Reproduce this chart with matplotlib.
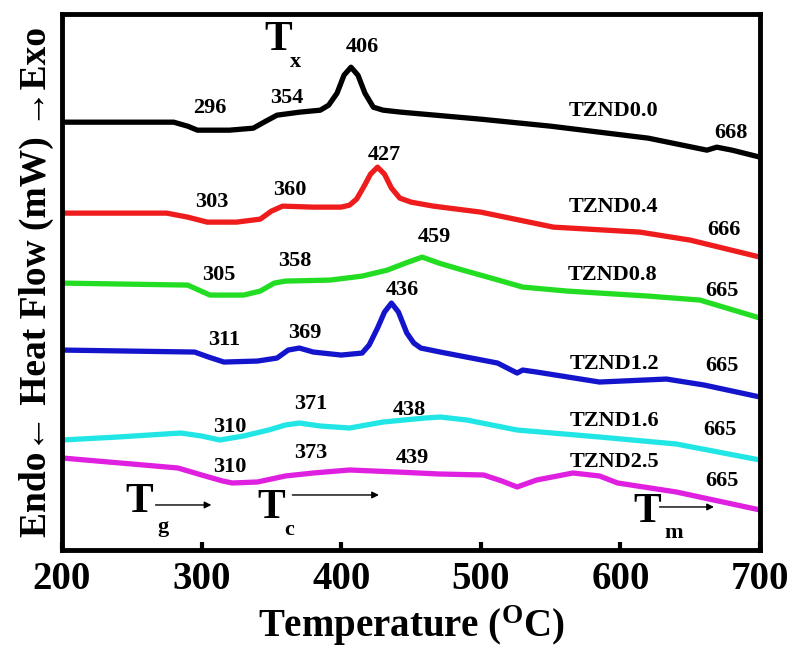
import matplotlib
matplotlib.use("Agg")
import matplotlib.pyplot as plt

plt.rcParams.update({
    "font.family": ["Liberation Serif", "DejaVu Serif"],
    "font.weight": "bold",
    "mathtext.fontset": "custom",
    "mathtext.rm": "Liberation Serif:bold",
})

# ---------------------------------------------------------------- data
# heat flow in arbitrary units (curves offset for clarity, larger = lower)
t_00 = [200, 280, 290, 297, 320, 337, 346, 354, 370, 385, 391, 397, 402, 407, 412, 417, 423,
        430, 443, 500, 550, 585, 620, 662, 669, 680, 700]
h_00 = [122, 122, 126, 130, 130, 128, 121, 115, 112, 110, 105, 93, 75, 67, 75, 93, 107,
        110, 112, 119, 126, 132, 138, 150, 147, 150, 157]

t_04 = [200, 275, 290, 304, 325, 342, 350, 358, 380, 400, 406, 411, 416, 421, 426, 431, 436,
        442, 450, 466, 500, 552, 614, 650, 700]
h_04 = [213, 213, 217, 222, 222, 219, 211, 206, 207, 207, 205, 199, 187, 174, 167, 174, 188,
        198, 202, 206, 212, 227, 232, 240, 257]

t_08 = [200, 290, 298, 306, 330, 342, 352, 360, 392, 415, 433, 446, 458, 470, 487, 510, 530,
        562, 620, 657, 700]
h_08 = [283, 285, 290, 295, 295, 291, 283, 281, 280, 276, 270, 263, 257, 263, 270, 279, 287,
        291, 296, 300, 318]

t_12 = [200, 295, 305, 316, 340, 354, 362, 370, 380, 400, 415, 420, 426, 431, 436, 441, 447,
        452, 457, 471, 512, 526, 530, 540, 585, 633, 660, 700]
h_12 = [350, 352, 357, 362, 361, 358, 350, 348, 352, 355, 353, 345, 328, 312, 303, 312, 333,
        343, 348, 352, 363, 373, 370, 372, 382, 379, 385, 397]

t_16 = [200, 240, 285, 300, 313, 330, 348, 360, 370, 385, 406, 430, 460, 471, 490, 526, 585, 640, 700]
h_16 = [440, 437, 433, 436, 440, 436, 430, 425, 423, 426, 428, 422, 418, 417, 420, 430, 437, 444, 460]

t_25 = [200, 250, 283, 300, 315, 322, 340, 360, 380, 406, 440, 470, 502, 515, 526, 540, 566, 585,
        598, 640, 700]
h_25 = [458, 464, 468, 475, 481, 483, 482, 476, 473, 470, 472, 474, 475, 481, 487, 480, 473, 476,
        483, 492, 510]

samples = ["TZND0.0", "TZND0.4", "TZND0.8", "TZND1.2", "TZND1.6", "TZND2.5"]
colors = ["black", "#ee1c1c", "#22dd22", "#1414cc", "#22e6e6", "#e020e0"]

# characteristic temperatures: Tg, Tc, Tp, Tm
tg = [296, 303, 305, 311, 310, 310]
tc = [354, 360, 358, 369, 371, 373]
tp = [406, 427, 459, 436, 438, 439]
tm = [668, 666, 665, 665, 665, 665]

# label anchors (temperature, heat flow) for each annotation
tg_pos = [(306, 108), (307, 202), (312, 275), (316, 340), (320, 427), (320, 467)]
tc_pos = [(361, 98), (363, 190), (367, 261), (374, 333), (378, 404), (378, 453)]
tp_pos = [(415, 47), (431, 155), (467, 237), (444, 290), (449, 410), (451, 458)]
tm_pos = [(679, 133), (674, 230), (673, 291), (673, 366), (671, 430), (673, 481)]
name_pos = [(595, 111), (595, 207), (594, 275), (596, 364), (596, 421), (596, 462)]

# ---------------------------------------------------------------- figure
fig = plt.figure(figsize=(7.95, 6.47), dpi=100)
ax = fig.add_axes([0.078, 0.150, 0.878, 0.828])

curves = [(t_00, h_00), (t_04, h_04), (t_08, h_08), (t_12, h_12), (t_16, h_16), (t_25, h_25)]
for (t, h), c in zip(curves, colors):
    ax.plot(t, h, color=c, linewidth=3.8, solid_joinstyle="round", solid_capstyle="round")

for i in range(len(samples)):
    for val, pos in ((tg[i], tg_pos[i]), (tc[i], tc_pos[i]), (tp[i], tp_pos[i]), (tm[i], tm_pos[i])):
        ax.text(pos[0], pos[1], str(val), fontsize=16, fontweight="bold",
                ha="center", va="center")
    ax.text(name_pos[i][0], name_pos[i][1], samples[i], fontsize=16, fontweight="bold",
            ha="center", va="center")

# T_x, T_g, T_c, T_m markers
ax.text(355, 40, "T", fontsize=30, fontweight="bold", ha="center", va="center")
ax.text(367, 62, "x", fontsize=16, fontweight="bold", ha="center", va="center")

ax.text(255, 502, "T", fontsize=30, fontweight="bold", ha="center", va="center")
ax.text(272, 527, "g", fontsize=16, fontweight="bold", ha="center", va="center")
ax.annotate("", xy=(309, 505), xytext=(265, 505),
            arrowprops=dict(arrowstyle="-|>", color="black", lw=1.0, mutation_scale=10))

ax.text(350, 508, "T", fontsize=30, fontweight="bold", ha="center", va="center")
ax.text(363, 530, "c", fontsize=16, fontweight="bold", ha="center", va="center")
ax.annotate("", xy=(429, 495), xytext=(363, 495),
            arrowprops=dict(arrowstyle="-|>", color="black", lw=1.0, mutation_scale=10))

ax.text(619, 512, "T", fontsize=30, fontweight="bold", ha="center", va="center")
ax.text(638, 533, "m", fontsize=16, fontweight="bold", ha="center", va="center")
ax.annotate("", xy=(669, 507), xytext=(626, 507),
            arrowprops=dict(arrowstyle="-|>", color="black", lw=1.0, mutation_scale=10))

ax.set_xlim(200, 700)
ax.set_ylim(550, 14)
ax.set_xticks([200, 300, 400, 500, 600, 700])
ax.set_yticks([])
ax.tick_params(axis="x", direction="in", length=6, width=3, labelsize=28, pad=8)
for lbl in ax.get_xticklabels():
    lbl.set_fontweight("bold")
for sp in ax.spines.values():
    sp.set_linewidth(3.5)

ax.set_xlabel("Temperature ($\\mathregular{^O}$C)", fontsize=28, fontweight="bold", labelpad=4)
ax.set_ylabel("Endo\u2190 Heat Flow (mW) \u2192Exo", fontsize=27, fontweight="bold", labelpad=6)

fig.savefig("out.png", dpi=100)
